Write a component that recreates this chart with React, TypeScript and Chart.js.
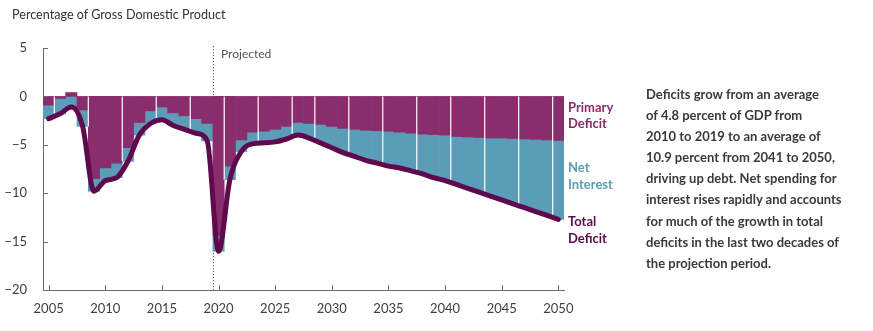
import React, { useEffect, useRef } from 'react';
import { Chart, registerables } from 'chart.js';

Chart.register(...registerables);

const years = [
  '2005', '2006', '2007', '2008', '2009', '2010', '2011', '2012', '2013', '2014',
  '2015', '2016', '2017', '2018', '2019', '2020', '2021', '2022', '2023', '2024',
  '2025', '2026', '2027', '2028', '2029', '2030', '2031', '2032', '2033', '2034',
  '2035', '2036', '2037', '2038', '2039', '2040', '2041', '2042', '2043', '2044',
  '2045', '2046', '2047', '2048', '2049', '2050',
];

const primaryDeficit = [
  -0.9, -0.2, 0.4, -1.4, -8.5, -7.4, -6.9, -5.3, -2.7, -1.5,
  -1.1, -1.7, -2.0, -2.3, -2.8, -14.4, -7.2, -4.5, -3.7, -3.6,
  -3.4, -3.1, -2.7, -2.8, -2.9, -3.1, -3.3, -3.4, -3.5, -3.55,
  -3.6, -3.7, -3.8, -3.9, -3.95, -4.0, -4.15, -4.2, -4.25, -4.3,
  -4.3, -4.35, -4.4, -4.45, -4.5, -4.55,
];

const netInterest = [
  -1.4, -1.6, -1.2, -1.7, -1.3, -1.3, -1.5, -1.4, -1.3, -1.3,
  -1.3, -1.3, -1.4, -1.5, -1.8, -1.6, -1.4, -1.2, -1.2, -1.2,
  -1.3, -1.3, -1.3, -1.5, -1.9, -2.2, -2.5, -2.8, -3.1, -3.35,
  -3.6, -3.7, -3.9, -4.1, -4.45, -4.7, -4.95, -5.3, -5.65, -6.0,
  -6.4, -6.75, -7.1, -7.45, -7.8, -8.15,
];

const totalDeficit = [
  -2.3, -1.8, -1.1, -3.1, -9.8, -8.7, -8.4, -6.7, -4.0, -2.8,
  -2.4, -3.0, -3.4, -3.8, -4.6, -16.0, -8.6, -5.7, -4.9, -4.8,
  -4.7, -4.4, -4.0, -4.3, -4.8, -5.3, -5.8, -6.2, -6.6, -6.9,
  -7.2, -7.4, -7.7, -8.0, -8.4, -8.7, -9.1, -9.5, -9.9, -10.3,
  -10.7, -11.1, -11.5, -11.9, -12.3, -12.7,
];

// years after which the original shows a thin white seam between bars
const seamAfterYears = ['2005', '2008', '2011', '2014', '2017', '2020', '2023', '2026', '2028', '2031', '2034', '2037', '2040', '2043', '2046', '2049'];
const projectedStartYear = '2020';
const yTicks = [5, 0, -5, -10, -15, -20];

const PURPLE = '#8a2d6c';
const BLUE = '#5b9db8';
const LINE = '#5e0a4c';
const AXIS = '#6b6b6b';
const TEXT = '#404040';
const FONT = 'Lato, "Noto Sans", sans-serif';

const overlayPlugin = {
  id: 'overlay',
  beforeDatasetsDraw(chart: any) {
    const { ctx } = chart;
    const xs = chart.scales.x;
    const ys = chart.scales.y;
    const i = years.indexOf(projectedStartYear);
    const px = Math.round((xs.getPixelForValue(i - 1) + xs.getPixelForValue(i)) / 2) + 0.5;
    ctx.save();
    ctx.strokeStyle = '#555';
    ctx.lineWidth = 1;
    ctx.setLineDash([1.2, 1.8]);
    ctx.beginPath();
    ctx.moveTo(px, chart.chartArea.top - 2);
    ctx.lineTo(px, ys.getPixelForValue(-20));
    ctx.stroke();
    ctx.restore();
  },
  beforeDatasetDraw(chart: any, args: any) {
    if (args.meta.type !== 'line') return;
    const { ctx } = chart;
    const xs = chart.scales.x;
    const ys = chart.scales.y;
    const bottom = (k: number) => Math.min(primaryDeficit[k], 0) + Math.min(netInterest[k], 0);
    ctx.save();
    ctx.strokeStyle = '#ffffff';
    ctx.lineWidth = 1.2;
    seamAfterYears.forEach((yr) => {
      const k = years.indexOf(yr);
      const px = (xs.getPixelForValue(k) + xs.getPixelForValue(k + 1)) / 2;
      const depth = Math.max(bottom(k), bottom(k + 1));
      ctx.beginPath();
      ctx.moveTo(px, ys.getPixelForValue(0));
      ctx.lineTo(px, ys.getPixelForValue(depth));
      ctx.stroke();
    });
    ctx.restore();
  },
  afterDraw(chart: any) {
    const { ctx } = chart;
    const xs = chart.scales.x;
    const ys = chart.scales.y;
    const left = chart.chartArea.left;
    const base = ys.getPixelForValue(-20);
    ctx.save();
    ctx.strokeStyle = AXIS;
    ctx.lineWidth = 1;
    years.forEach((yr, k) => {
      if (Number(yr) % 5 !== 0) return;
      const px = Math.round(xs.getPixelForValue(k)) + 0.5;
      ctx.beginPath();
      ctx.moveTo(px, base);
      ctx.lineTo(px, base - 5);
      ctx.stroke();
    });
    yTicks.forEach((v) => {
      const py = Math.round(ys.getPixelForValue(v)) + 0.5;
      ctx.beginPath();
      ctx.moveTo(left, py);
      ctx.lineTo(left + 5, py);
      ctx.stroke();
    });
    ctx.restore();
  },
};

export default function App() {
  const ref = useRef<HTMLCanvasElement | null>(null);

  useEffect(() => {
    if (!ref.current) return;
    const chart = new Chart(ref.current, {
      type: 'bar',
      data: {
        labels: years,
        datasets: [
          {
            type: 'bar',
            label: 'Primary Deficit',
            data: primaryDeficit,
            backgroundColor: PURPLE,
            stack: 'bars',
            order: 1,
            barPercentage: 1,
            categoryPercentage: 1,
            borderWidth: 0,
          },
          {
            type: 'bar',
            label: 'Net Interest',
            data: netInterest,
            backgroundColor: BLUE,
            stack: 'bars',
            order: 1,
            barPercentage: 1,
            categoryPercentage: 1,
            borderWidth: 0,
          },
          {
            type: 'line',
            label: 'Total Deficit',
            data: totalDeficit,
            borderColor: LINE,
            backgroundColor: LINE,
            borderWidth: 5,
            pointRadius: 0,
            stack: 'total',
            order: 0,
            cubicInterpolationMode: 'monotone',
            borderJoinStyle: 'round',
            borderCapStyle: 'round',
          } as any,
        ],
      },
      options: {
        responsive: false,
        animation: false,
        devicePixelRatio: 1,
        layout: { padding: { left: 0, top: 48, right: 36, bottom: 0 } },
        plugins: { legend: { display: false }, tooltip: { enabled: false } },
        scales: {
          x: {
            stacked: true,
            grid: { display: false },
            border: { display: true, color: AXIS, width: 1 },
            ticks: {
              autoSkip: false,
              maxRotation: 0,
              minRotation: 0,
              padding: 3,
              color: TEXT,
              font: { family: FONT, size: 13 },
              callback: (_v: any, i: number) => (Number(years[i]) % 5 === 0 ? years[i] : ''),
            },
            afterFit: (s: any) => {
              s.height = 41;
            },
          },
          y: {
            stacked: true,
            min: -20,
            max: 5,
            grid: { display: false },
            border: { display: true, color: AXIS, width: 1 },
            ticks: {
              stepSize: 5,
              padding: 8,
              color: TEXT,
              font: { family: FONT, size: 13 },
              callback: (v: any) => String(v).replace('-', '\u2212'),
            },
            afterFit: (s: any) => {
              s.width = 43;
            },
          },
        },
      },
      plugins: [overlayPlugin],
    });
    return () => chart.destroy();
  }, []);

  const bold = { fontWeight: 700, fontSize: 13, fontFamily: FONT } as const;
  const paragraph = [
    'Deficits grow from an average',
    'of 4.8 percent of GDP from',
    '2010 to 2019 to an average of',
    '10.9 percent from 2041 to 2050,',
    'driving up debt. Net spending for',
    'interest rises rapidly and accounts',
    'for much of the growth in total',
    'deficits in the last two decades of',
    'the projection period.',
  ];

  return (
    <div style={{ position: 'absolute', left: 0, top: 0, width: 873, height: 331, background: '#fff', fontFamily: FONT, overflow: 'hidden' }}>
      <canvas ref={ref} width={600} height={331} style={{ position: 'absolute', left: 0, top: 0, width: 600, height: 331 }} />
      <div style={{ position: 'absolute', left: 12, top: 7, fontSize: 12.6, lineHeight: '16px', color: '#333', whiteSpace: 'nowrap' }}>
        Percentage of Gross Domestic Product
      </div>
      <div style={{ position: 'absolute', left: 221, top: 47, fontSize: 12, lineHeight: '14px', color: '#555', whiteSpace: 'nowrap' }}>
        Projected
      </div>
      <div style={{ position: 'absolute', left: 568, top: 99, lineHeight: '16px', color: PURPLE, ...bold }}>
        <div>Primary</div>
        <div>Deficit</div>
      </div>
      <div style={{ position: 'absolute', left: 568, top: 159, lineHeight: '17px', color: BLUE, ...bold }}>
        <div>Net</div>
        <div>Interest</div>
      </div>
      <div style={{ position: 'absolute', left: 568, top: 213, lineHeight: '16.5px', color: LINE, ...bold }}>
        <div>Total</div>
        <div>Deficit</div>
      </div>
      <div style={{ position: 'absolute', left: 646, top: 84, lineHeight: '21.1px', color: '#3a3a3a', whiteSpace: 'nowrap', ...bold }}>
        {paragraph.map((t) => (
          <div key={t}>{t}</div>
        ))}
      </div>
    </div>
  );
}
